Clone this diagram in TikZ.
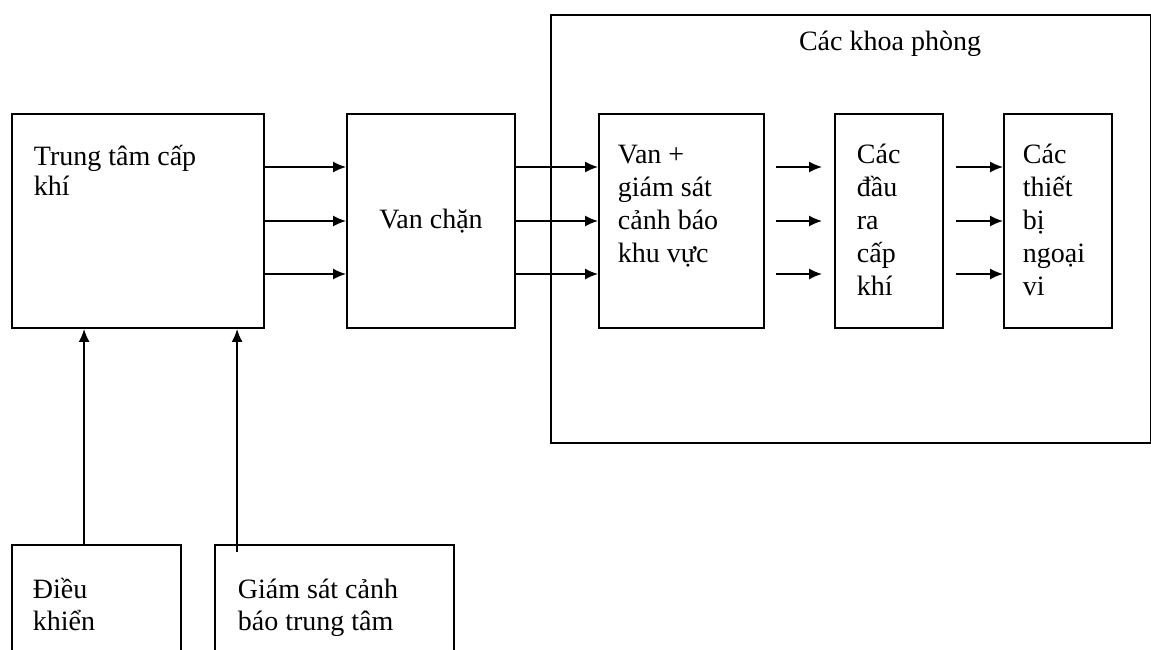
\documentclass[tikz,border=0pt]{standalone}
\usepackage{fontspec}
\setmainfont{Liberation Serif}
\usetikzlibrary{arrows.meta}

\tikzset{
  box/.style={rectangle, draw, line width=1.8pt, inner sep=0pt},
  txt/.style={inner sep=0pt, align=left, font=\fontsize{28}{33}\selectfont},
  >={Latex[length=13pt,width=11pt]},
}

\begin{document}
\begin{tikzpicture}[x=1pt, y=-1pt, line width=1.8pt]
    \useasboundingbox (0,0) rectangle (1151,649);

    % frame of the departments
    \node[box, minimum width=600pt, minimum height=428pt] (khoa) at (851,229) {};
    \node[txt, anchor=base] (khoatxt) at (890,50) {Các khoa phòng};

    \node[box, minimum width=252pt, minimum height=214pt] (tram) at (138,221) {};
    \node[box, txt, minimum width=168pt, minimum height=214pt] (chan) at (431,221) {Van chặn};
    \node[box, minimum width=165pt, minimum height=214pt] (vung) at (681.5,221) {};
    \node[box, minimum width=108pt, minimum height=214pt] (dau) at (889,221) {};
    \node[box, minimum width=108pt, minimum height=214pt] (thietbi) at (1058,221) {};
    \node[box, minimum width=169pt, minimum height=130pt] (dieu) at (96.5,610) {};
    \node[box, minimum width=239pt, minimum height=130pt] (giam) at (334.5,610) {};

    % text sits on the baseline of its last line
    \node[txt, anchor=base west, font=\fontsize{28}{30}\selectfont] (tramtxt) at (33,195) {Trung tâm cấp\\khí};
    \node[txt, anchor=base west] (vungtxt) at (617,262) {Van +\\giám sát\\cảnh báo\\khu vực};
    \node[txt, anchor=base west] (dautxt) at (856,295) {Các\\đầu\\ra\\cấp\\khí};
    \node[txt, anchor=base west] (thietbitxt) at (1022,295) {Các\\thiết\\bị\\ngoại\\vi};
    \node[txt, anchor=base west, font=\fontsize{28}{32}\selectfont] (dieutxt) at (32,630) {Điều\\khiển};
    \node[txt, anchor=base west, font=\fontsize{28}{32}\selectfont] (giamtxt) at (237,630) {Giám sát cảnh\\báo trung tâm};

    \foreach \d in {54,0,-53} {
        \draw[->] ([yshift=\d pt]tram.east) -- ([yshift=\d pt]chan.west);
        \draw[->] ([yshift=\d pt]chan.east) -- ([yshift=\d pt]vung.west);
        \draw[->] ([xshift=11pt,yshift=\d pt]vung.east) -- ([xshift=-12pt,yshift=\d pt]dau.west);
        \draw[->] ([xshift=12pt,yshift=\d pt]dau.east) -- ([yshift=\d pt]thietbi.west);
    }

    \draw[->] ([xshift=73pt]dieu.north west) -- ([xshift=73pt]dieu.north west |- tram.south);
    \draw[->] ([xshift=23pt,yshift=-8pt]giam.north west) -- ([xshift=23pt]giam.north west |- tram.south);
\end{tikzpicture}
\end{document}
